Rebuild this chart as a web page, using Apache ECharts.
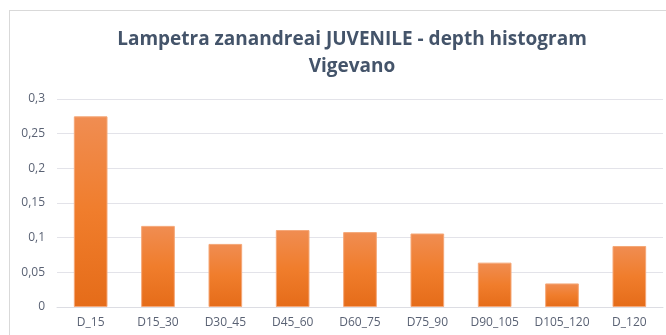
<!DOCTYPE html>
<html>
<head>
<meta charset="utf-8">
<script src="https://cdn.jsdelivr.net/npm/echarts@6/dist/echarts.min.js"></script>
<style>
  html, body { margin: 0; padding: 0; background: #fff; }
  #frame { position: absolute; left: 9px; top: 10px; width: 676px; height: 340px; border: 1px solid #d9d9d9; box-sizing: border-box; }
  #chart { width: 666px; height: 335px; }
</style>
</head>
<body>
<div id="frame"></div>
<div id="chart"></div>
<script>
const categories = ['D_15', 'D15_30', 'D30_45', 'D45_60', 'D60_75', 'D75_90', 'D90_105', 'D105_120', 'D_120'];
const frequencies = [0.275, 0.117, 0.091, 0.111, 0.108, 0.106, 0.064, 0.034, 0.088];
const titleLines = ['Lampetra zanandreai JUVENILE - depth histogram', 'Vigevano'];

const chart = echarts.init(document.getElementById('chart'), null, { renderer: 'canvas' });

chart.setOption({
  backgroundColor: 'transparent',
  animation: false,
  title: {
    text: titleLines.join('\n'),
    left: 347,
    textAlign: 'center',
    top: 21,
    textStyle: {
      fontFamily: 'Open Sans',
      fontSize: 19,
      fontWeight: 'bold',
      color: '#44546a',
      lineHeight: 27
    }
  },
  grid: { left: 57, right: 3, top: 99, bottom: 28, containLabel: false },
  xAxis: {
    type: 'category',
    data: categories,
    axisLine: { lineStyle: { color: '#dcdde3' } },
    axisTick: { show: false },
    axisLabel: { interval: 0, color: '#5a6274', fontFamily: 'Open Sans', fontSize: 12, margin: 10 }
  },
  yAxis: {
    type: 'value',
    min: 0,
    max: 0.3,
    interval: 0.05,
    axisLine: { show: false },
    axisTick: { show: false },
    splitLine: { lineStyle: { color: '#e3e3e9' } },
    axisLabel: {
      color: '#5a6274',
      fontFamily: 'Open Sans',
      fontSize: 12,
      margin: 12,
      formatter: v => String(Math.round(v * 100) / 100).replace('.', ',')
    }
  },
  series: [{
    type: 'bar',
    data: frequencies,
    barWidth: '50%',
    itemStyle: {
      color: new echarts.graphic.LinearGradient(0, 0, 0, 1, [
        { offset: 0, color: '#f08d52' },
        { offset: 0.5, color: '#f07d2c' },
        { offset: 1, color: '#e56c19' }
      ]),
      borderColor: '#f5a878',
      borderWidth: 1
    }
  }]
});
</script>
</body>
</html>
